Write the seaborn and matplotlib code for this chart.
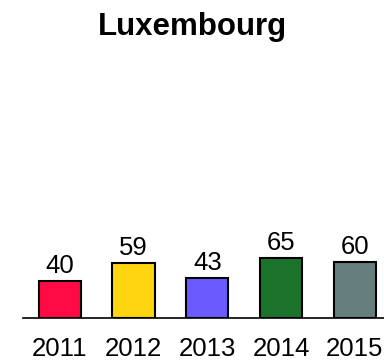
import matplotlib
matplotlib.use("Agg")
import matplotlib.pyplot as plt
import seaborn as sns
import pandas as pd

years = ["2011", "2012", "2013", "2014", "2015"]
values = [40, 59, 43, 65, 60]
colors = ["#FF0A45", "#FFD511", "#6B5BFF", "#1B722B", "#677E7E"]
title = "Luxembourg"

sns.set_style("white")
plt.rcParams["font.family"] = ["Liberation Sans", "DejaVu Sans"]
plt.rcParams["text.color"] = "black"

df = pd.DataFrame({"year": years, "value": values})

fig = plt.figure(figsize=(3.84, 3.62), dpi=100)
ax = fig.add_axes([0.0594, 0.1207, 0.961, 0.6975])

sns.barplot(data=df, x="year", y="value", hue="year", palette=colors,
            width=0.57, edgecolor="black", linewidth=1.5, legend=False,
            saturation=1, ax=ax)

for c in ax.containers:
    ax.bar_label(c, fmt="%d", padding=2, fontsize=18.5, color="black")

ax.set_xlim(-0.5, 4.5)
ax.set_ylim(0, 270)
ax.set_xlabel("")
ax.set_ylabel("")
ax.set_yticks([])
ax.tick_params(axis="x", length=0, pad=13.5, labelsize=18.5, colors="black")
for s in ["top", "right", "left"]:
    ax.spines[s].set_visible(False)
ax.spines["bottom"].set_color("black")
ax.spines["bottom"].set_linewidth(1.2)

fig.text(0.5, 1 - 35.5 / 362, title, ha="center", va="baseline",
         fontsize=22.5, fontweight="bold", color="black")

fig.savefig("out.png", dpi=100)
